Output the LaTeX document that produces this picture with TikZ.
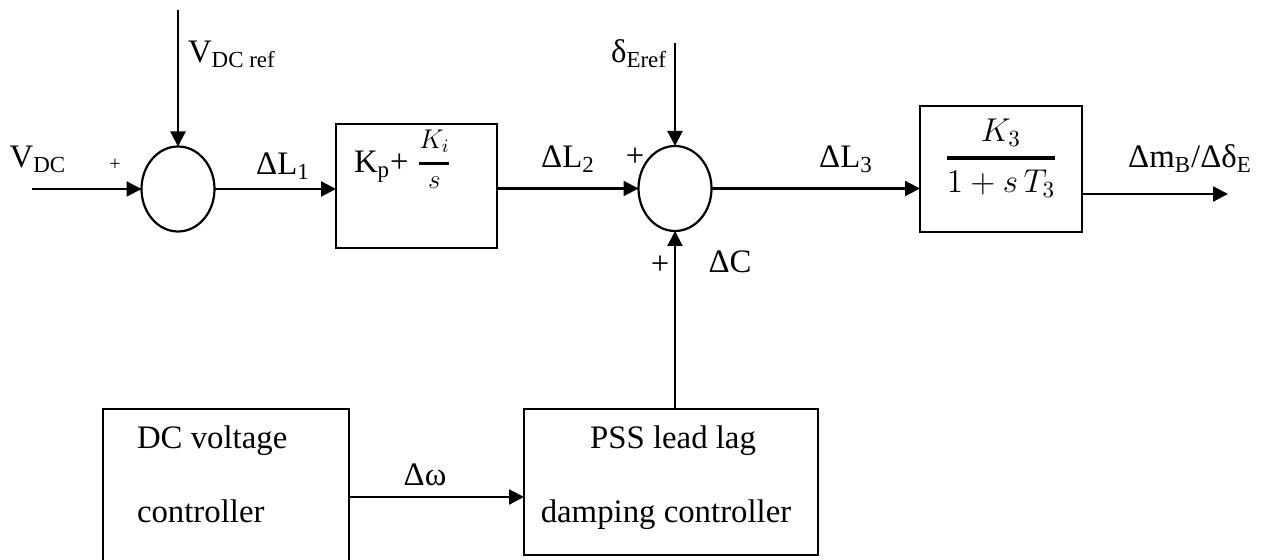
\RequirePackage{fix-cm}
\documentclass[tikz,border=0pt]{standalone}
\usepackage{fontspec}
\usepackage{amsmath}
\setmainfont{Liberation Serif}
\usetikzlibrary{arrows.meta,shapes.geometric}
\begin{document}
\begin{tikzpicture}[x=0.5pt,y=-0.5pt,
  every node/.style={font=\fontsize{16.4}{20}\selectfont, inner sep=0pt, outer sep=0pt},
  blk/.style={draw, line width=1pt, rectangle},
  sumj/.style={draw, ellipse, line width=1.1pt, minimum width=36.5pt, minimum height=42.5pt},
  sig/.style={line width=1.1pt, -{Triangle[length=7.5pt,width=7.5pt]}},
  smallplus/.style={font=\fontsize{10}{12}\selectfont}]
\useasboundingbox (0,0) rectangle (1261,560);

% blocks
\node[sumj] (s1) at (178,189) {};
\node[sumj] (s2) at (675,188.5) {};
\node[blk, minimum width=80.5pt, minimum height=62pt] (pi) at (416.5,186) {};
\node[blk, minimum width=81pt, minimum height=63pt] (k3) at (1001,169) {};
\node[blk, minimum width=123pt, minimum height=78pt] (dc) at (226,487) {};
\node[blk, minimum width=147pt, minimum height=73pt] (pss) at (671,482) {};

% free ends
\coordinate (vin) at (32,189);
\coordinate (vref) at (178,10);
\coordinate (dref) at (675,43);
\coordinate (out) at (1228,194);
\coordinate (dw) at (0,497);

% connectors
\draw[sig] (vin) -- (s1.west);
\draw[sig] (vref) -- (s1.north);
\draw[sig] (s1.east) -- (s1.east -| pi.west);
\draw[sig] (pi.east |- s2.west) -- (s2.west);
\draw[sig] (dref) -- (s2.north);
\draw[sig] (s2.east) -- (s2.east -| k3.west);
\draw[sig] (out -| k3.east) -- (out);
\draw[sig] (dc.east |- dw) -- (pss.west |- dw);
\draw[sig] (pss.north -| s2.south) -- (s2.south);

% block texts
\node[anchor=base west] (pitxt) at (354,173) {K\textsubscript{p}+ \raisebox{1.5pt}{\fontsize{13.5}{16}\selectfont$\genfrac{}{}{1.5pt}{0}{K_i}{s}$}};
\node (k3txt) at (1001,158) {\fontsize{16.5}{20}\selectfont$\genfrac{}{}{1.7pt}{0}{K_3}{1+s\,T_3}$};
\node[anchor=base west] (dc1) at (137,448) {DC voltage};
\node[anchor=base west] (dc2) at (137,522) {controller};
\node[anchor=base] (pss1) at (673,448) {PSS lead lag};
\node[anchor=base] (pss2) at (666,522) {damping controller};

% signal labels
\node[anchor=base] (lvdc) at (38,168) {V\textsubscript{DC}};
\node[smallplus] (p1) at (115,165) {+};
\node[anchor=base west] (lvref) at (188,63) {V\textsubscript{DC ref}};
\node[anchor=base] (ll1) at (283,175) {ΔL\textsubscript{1}};
\node[anchor=base] (ll2) at (568,168) {ΔL\textsubscript{2}};
\node (p2) at (635,157) {+};
\node[anchor=base east] (lde) at (667,63) {δ\textsubscript{Eref}};
\node[anchor=base] (ll3) at (846,168) {ΔL\textsubscript{3}};
\node[anchor=base] (ldc) at (730,273) {ΔC};
\node (p3) at (660,265) {+};
\node[anchor=base] (lout) at (1190,168) {Δm\textsubscript{B}/Δδ\textsubscript{E}};
\node[anchor=base] (lw) at (425,485) {Δω};
\end{tikzpicture}
\end{document}
